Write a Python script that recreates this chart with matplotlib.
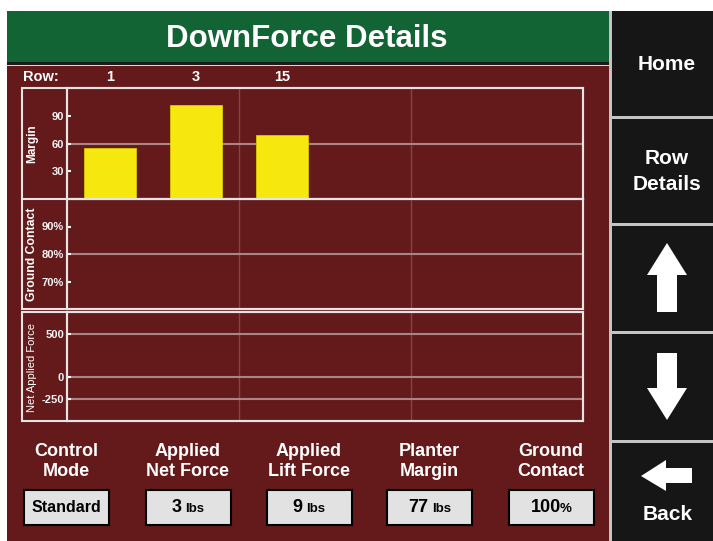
import matplotlib
matplotlib.use("Agg")
import matplotlib.pyplot as plt
import matplotlib.transforms as mtransforms
from matplotlib.patches import Rectangle, Polygon
from matplotlib.offsetbox import TextArea, HPacker, AnnotationBbox

plt.rcParams['font.family'] = ['Liberation Sans', 'DejaVu Sans']

# ---- data ----
rows = ["1", "3", "15"]
margin = [56, 103, 70]
ground_contact = []        # no values shown
net_applied_force = []     # no values shown

margin_ticks = [30, 60, 90]
contact_ticks = [70, 80, 90]
contact_ticklabels = ["70%", "80%", "90%"]
force_ticks = [-250, 0, 500]

info_top = ["Control", "Applied", "Applied", "Planter", "Ground"]
info_bottom = ["Mode", "Net Force", "Lift Force", "Margin", "Contact"]
info_values = ["Standard", "3", "9", "77", "100"]
info_units = ["", "lbs", "lbs", "lbs", "%"]

button_labels = ["Home", "Row", "Details", "Back"]

# ---- colours ----
GREEN = "#126434"
MAROON = "#641a1a"
BLACK = "#161616"
SEP = "#c4c4c4"
FRAME = "#e4e4e4"
HGRID = "#a98585"
VGRID = "#834646"
YELLOW = "#f6e80f"

W, H = 713, 541
fig = plt.figure(figsize=(W / 100, H / 100), dpi=100)

bg = fig.add_axes([0, 0, 1, 1])
bg.set_xlim(0, W)
bg.set_ylim(H, 0)
bg.axis("off")
bg.set_zorder(0)

# header and main area
bg.add_patch(Rectangle((7, 11), 602, 52, color=GREEN, lw=0))
bg.add_patch(Rectangle((7, 62), 602, 2.5, color="#1c1c1c", lw=0))
bg.add_patch(Rectangle((7, 64.5), 602, 1.5, color="#d8d8d8", lw=0))
bg.add_patch(Rectangle((7, 66), 602, H - 66, color=MAROON, lw=0))
bg.text(307, 39, "DownForce Details", color="white", fontsize=22.5,
        fontweight="bold", ha="center", va="center")

# right button column
bg.add_patch(Rectangle((609, 11), W - 609, H - 11, color=SEP, lw=0))
btn_rows = [(11, 116), (119, 223), (226, 331), (334, 440), (443, 541)]
for y0, y1 in btn_rows:
    bg.add_patch(Rectangle((612, y0), W - 612, y1 - y0, color=BLACK, lw=0))
for (x, y), lbl in zip([(667, 64), (667, 159), (667, 184), (668, 515)], button_labels):
    bg.text(x, y, lbl, color="white", fontsize=15, fontweight="bold",
            ha="center", va="center")
up = [(667, 243), (687, 275), (677, 275), (677, 312), (657, 312), (657, 275), (647, 275)]
down = [(657, 353), (677, 353), (677, 388), (687, 388), (667, 420), (647, 388), (657, 388)]
back = [(641, 476), (666, 460), (666, 468), (692, 468), (692, 483), (666, 483), (666, 491)]
for pts in (up, down, back):
    bg.add_patch(Polygon(pts, closed=True, color="white", lw=0))

# chart frames
bg.add_patch(Rectangle((22, 88), 561, 221, fill=False, ec=FRAME, lw=1.5))
bg.add_patch(Rectangle((22, 312), 561, 109, fill=False, ec=FRAME, lw=1.5))
bg.plot([22, 583], [199, 199], color=FRAME, lw=1.5)
bg.plot([67, 67], [88, 309], color=FRAME, lw=1.5)
bg.plot([67, 67], [312, 421], color=FRAME, lw=1.5)

bg.text(32, 144, "Margin", color="white", fontsize=8.5, fontweight="bold",
        rotation=90, ha="center", va="center")
bg.text(32, 254, "Ground Contact", color="white", fontsize=8.8, fontweight="bold",
        rotation=90, ha="center", va="center")
bg.text(32, 367, "Net Applied Force", color="white", fontsize=8,
        rotation=90, ha="center", va="center")


def px_axes(x0, y0, x1, y1):
    return fig.add_axes([x0 / W, 1 - y1 / H, (x1 - x0) / W, (y1 - y0) / H])


def style(ax, ylim, ticks, ticklabels, grid):
    ax.set_facecolor("none")
    ax.set_zorder(1)
    ax.set_xlim(0, 6)
    ax.set_ylim(*ylim)
    ax.set_xticks([])
    ax.set_yticks(ticks)
    ax.set_yticklabels(ticklabels)
    for lbl in ax.get_yticklabels():
        lbl.set_fontweight("bold")
    ax.tick_params(axis="y", direction="in", length=3, width=1.5,
                   color="white", labelcolor="#f4f4f4", labelsize=8, pad=2)
    for s in ax.spines.values():
        s.set_color(FRAME)
        s.set_linewidth(1.5)
    for g in grid:
        ax.axhline(g, color=HGRID, lw=1.5, zorder=1)
    for v in (2, 4):
        ax.axvline(v, color=VGRID, lw=1, zorder=0.5)


ax1 = px_axes(67, 88, 583, 199)
style(ax1, (0, 121), margin_ticks, [str(t) for t in margin_ticks], [60])
ax1.bar([i + 0.5 for i in range(len(margin))], margin, width=0.6,
        color=YELLOW, edgecolor="#d9c800", lw=0.6, zorder=2)

ax2 = px_axes(67, 199, 583, 309)
style(ax2, (60, 100), contact_ticks, contact_ticklabels, [80])

ax3 = px_axes(67, 312, 583, 421)
style(ax3, (-500, 750), force_ticks, [str(t) for t in force_ticks], force_ticks)

# row labels above the chart
bg.text(23, 77, "Row:", color="white", fontsize=10.5, fontweight="bold",
        ha="left", va="center")
row_tr = mtransforms.blended_transform_factory(ax1.transData, bg.transData)
for i, r in enumerate(rows):
    bg.text(i + 0.5, 77, r, transform=row_tr, color="white", fontsize=10.5,
            fontweight="bold", ha="center", va="center")

# info boxes at the bottom
centers = [66.5, 188, 309, 429.5, 551]
for cx, top, bot, val, unit in zip(centers, info_top, info_bottom, info_values, info_units):
    bg.text(cx, 452, top, color="white", fontsize=13, fontweight="bold",
            ha="center", va="center")
    bg.text(cx, 471, bot, color="white", fontsize=13, fontweight="bold",
            ha="center", va="center")
    bg.add_patch(Rectangle((cx - 42.5, 490), 85, 35, fc="#e2e2e2", ec="black", lw=1.5))
    if unit == "":
        bg.text(cx, 508, val, color="black", fontsize=11.5, fontweight="bold",
                ha="center", va="center")
        continue
    parts = [TextArea(val, textprops=dict(color="black", fontsize=13, fontweight="bold"))]
    parts.append(TextArea(unit, textprops=dict(color="black", fontsize=9.5, fontweight="bold")))
    sep = 3 if unit == "lbs" else -1
    pack = HPacker(children=parts, align="baseline", pad=0, sep=sep)
    ab = AnnotationBbox(pack, (cx, 508), xycoords="data", frameon=False,
                        box_alignment=(0.5, 0.5), pad=0)
    bg.add_artist(ab)

fig.savefig("out.png", dpi=100, facecolor="white")
